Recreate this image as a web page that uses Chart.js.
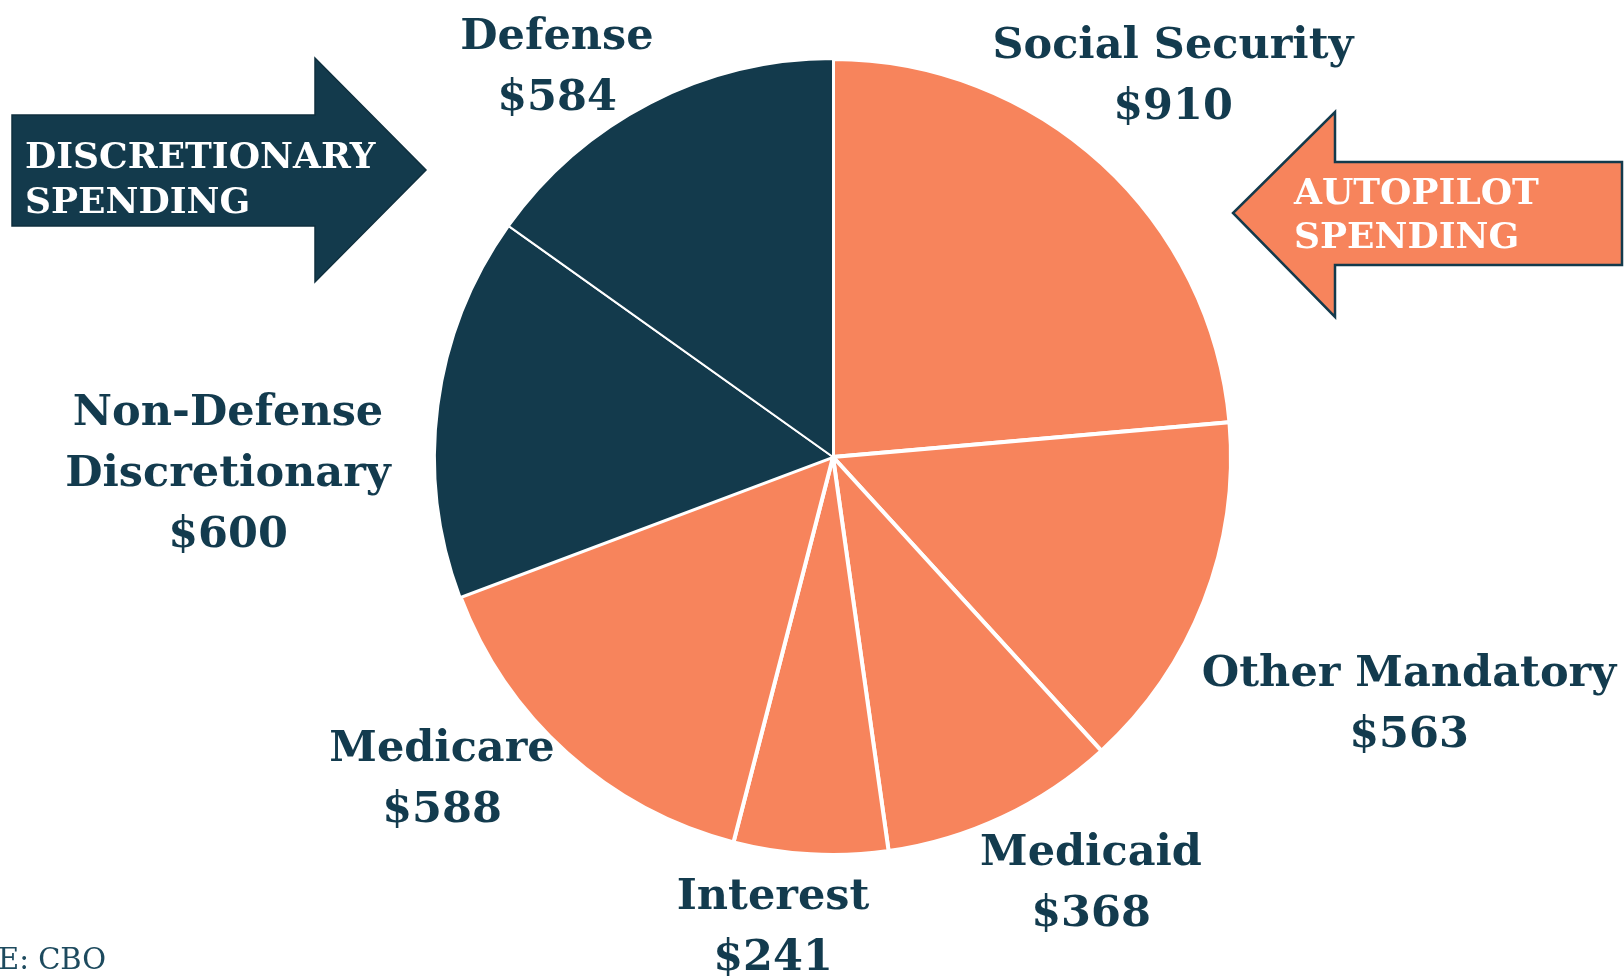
<!DOCTYPE html>
<html>
<head>
<meta charset="utf-8">
<script src="https://cdn.jsdelivr.net/npm/chart.js@4"></script>
<style>
  html, body { margin: 0; padding: 0; background: #fff; }
  #wrap { width: 1624px; height: 978px; }
</style>
</head>
<body>
<div id="wrap"><canvas id="myChart" width="1624" height="978"></canvas></div>
<script>
// spending categories, billions of dollars (clockwise from 12 o'clock)
const categories = ["Social Security", "Other Mandatory", "Medicaid", "Interest", "Medicare", "Non-Defense Discretionary", "Defense"];
const amounts = [910, 563, 368, 241, 588, 600, 584];
const groups = ["autopilot", "autopilot", "autopilot", "autopilot", "autopilot", "discretionary", "discretionary"];

// label text lines as printed on the chart
const labelLines = [
  ["Social Security", "$910"],
  ["Other Mandatory", "$563"],
  ["Medicaid", "$368"],
  ["Interest", "$241"],
  ["Medicare", "$588"],
  ["Non-Defense", "Discretionary", "$600"],
  ["Defense", "$584"]
];
// where each label block sits (center x, first baseline y)
const labelPos = [
  [1173, 58], [1409, 686], [1091, 865], [773, 909], [442, 761], [228, 425], [557, 49]
];

const navy = "#133a4c";
const orange = "#f7845c";
const textColor = "#133b4e";

const colors = groups.map(g => g == "discretionary" ? navy : orange);

const labelPlugin = {
  id: "labels",
  afterDraw(chart) {
    const ctx = chart.ctx;
    ctx.save();
    ctx.fillStyle = textColor;
    ctx.textAlign = "center";
    ctx.textBaseline = "alphabetic";
    ctx.font = "bold 43px 'DejaVu Serif'";
    labelLines.forEach((lines, i) => {
      const [x, y] = labelPos[i];
      lines.forEach((t, j) => ctx.fillText(t, x, y + j * 61));
    });

    // source note, cut at the left edge like the original
    ctx.textAlign = "left";
    ctx.font = "29px 'DejaVu Serif'";
    ctx.fillStyle = "#1d4a5e";
    ctx.fillText("E: CBO", -2, 969);
    ctx.restore();
  }
};

function arrow(ctx, pts, fill, stroke, lw) {
  ctx.beginPath();
  ctx.moveTo(pts[0][0], pts[0][1]);
  pts.slice(1).forEach(p => ctx.lineTo(p[0], p[1]));
  ctx.closePath();
  ctx.fillStyle = fill;
  ctx.fill();
  ctx.lineWidth = lw;
  ctx.strokeStyle = stroke;
  ctx.stroke();
}

const arrowPlugin = {
  id: "arrows",
  afterDraw(chart) {
    const ctx = chart.ctx;
    ctx.save();
    ctx.lineJoin = "miter";
    // discretionary arrow, pointing right
    arrow(ctx, [[12,115],[315,115],[315,58],[426,170],[315,282],[315,226],[12,226]], navy, "#0f2f3e", 1.5);
    // autopilot arrow, pointing left
    arrow(ctx, [[1622,162],[1335,162],[1335,112],[1233,213],[1335,317],[1335,265],[1622,265]], orange, navy, 2.5);

    ctx.fillStyle = "#ffffff";
    ctx.textAlign = "left";
    ctx.textBaseline = "alphabetic";
    ctx.font = "bold 36px 'DejaVu Serif'";
    ctx.fillText("DISCRETIONARY", 25, 168);
    ctx.fillText("SPENDING", 25, 213);
    ctx.fillText("AUTOPILOT", 1294, 204);
    ctx.fillText("SPENDING", 1294, 248);
    ctx.restore();
  }
};

new Chart(document.getElementById("myChart"), {
  type: "pie",
  data: {
    labels: categories,
    datasets: [{
      data: amounts,
      backgroundColor: colors,
      borderColor: "#ffffff",
      borderWidth: colors.map(c => c == navy ? 2 : 4)
    }]
  },
  options: {
    responsive: false,
    animation: false,
    layout: {
      padding: { left: 433, right: 391, top: 57, bottom: 121 }
    },
    plugins: {
      legend: { display: false },
      tooltip: { enabled: false }
    }
  },
  plugins: [arrowPlugin, labelPlugin]
});
</script>
</body>
</html>
